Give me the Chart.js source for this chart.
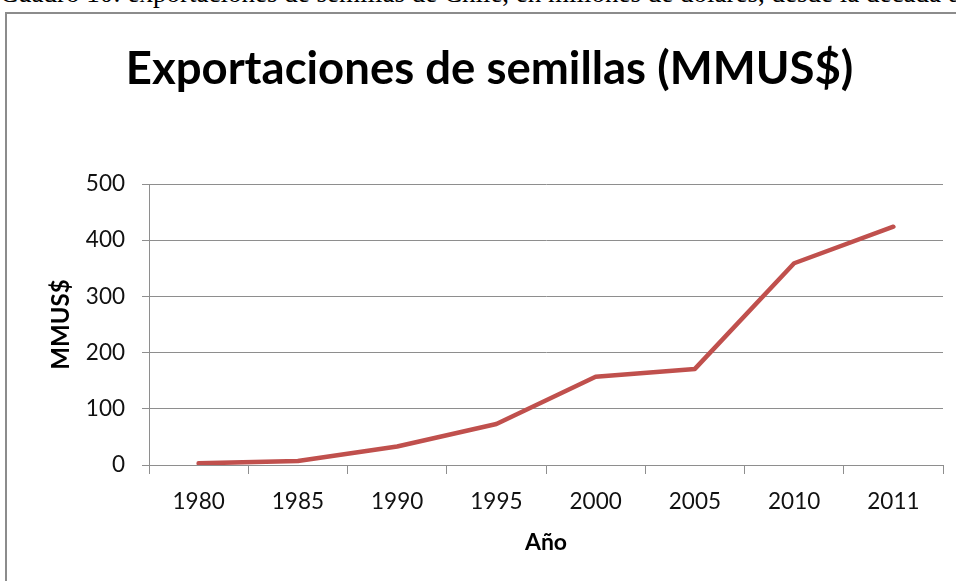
<!DOCTYPE html>
<html><head><meta charset="utf-8">
<script src="https://cdn.jsdelivr.net/npm/chart.js@4.4.0/dist/chart.umd.min.js"></script>
<style>
html,body{margin:0;padding:0;background:#fff;overflow:hidden;width:956px;height:581px;}
#cap{position:absolute;left:0;top:-20px;white-space:nowrap;font-family:"Liberation Serif";font-size:27px;line-height:27px;color:#000;}
#frame{position:absolute;left:5px;top:12px;width:1000px;height:1000px;border:2px solid #8c8c8c;box-sizing:border-box;}
#wrap{position:absolute;left:0;top:0;width:956px;height:581px;}
</style></head><body>
<div id="cap">Cuadro 10: exportaciones de semillas de Chile, en millones de dólares, desde la década de 1980</div>
<div id="frame"></div>
<div id="wrap"><canvas id="c" width="956" height="581"></canvas></div>
<script>
const years = ['1980','1985','1990','1995','2000','2005','2010','2011'];
const exportValues = [3, 7, 33, 73, 157, 171, 359, 424];
const yMin = 0, yMax = 500, yStep = 100;
const chartTitle = 'Exportaciones de semillas (MMUS$)';
const xTitle = 'Año';
const yTitle = 'MMUS$';

const gridGray = '#8e8e8e';
const textColor = '#111';

new Chart(document.getElementById('c'), {
  type: 'line',
  data: {
    labels: years,
    datasets: [{
      data: exportValues,
      borderColor: '#C0504D',
      backgroundColor: '#C0504D',
      borderWidth: 4.5,
      pointRadius: 0,
      tension: 0,
      borderCapStyle: 'round',
      borderJoinStyle: 'round',
      fill: false
    }]
  },
  options: {
    responsive: false,
    animation: false,
    layout: { padding: { left: 36, right: 13, top: 0, bottom: 0 } },
    plugins: {
      legend: { display: false },
      tooltip: { enabled: false },
      title: {
        display: true,
        text: chartTitle,
        color: '#000',
        font: { family: 'Lato', size: 45.5, weight: 'bold', lineHeight: 1.2 },
        padding: { top: 41.7, bottom: 87.7 }
      }
    },
    scales: {
      x: {
        type: 'category',
        offset: true,
        grid: { offset: true, drawOnChartArea: false, drawTicks: true, tickLength: 9, color: gridGray, lineWidth: 1 },
        border: { display: true, color: gridGray, width: 1 },
        ticks: { color: textColor, font: { family: 'Lato', size: 22.5 }, padding: 14, maxRotation: 0, autoSkip: false },
        title: { display: true, text: xTitle, color: '#000', font: { family: 'Lato', size: 23, weight: 'bold' }, padding: { top: 0, bottom: 24.2 } },
        afterFit(s) { s.height = 116; }
      },
      y: {
        min: yMin, max: yMax,
        grid: { color: gridGray, lineWidth: 1, tickLength: 7 },
        border: { display: true, color: gridGray, width: 1 },
        ticks: { stepSize: yStep, color: textColor, font: { family: 'Lato', size: 22.5 }, padding: 17 },
        title: { display: true, text: yTitle, color: '#000', font: { family: 'Lato', size: 24, weight: 'bold' }, padding: { top: 10.6, bottom: 0 } },
        afterFit(s) { s.width = 113; }
      }
    }
  }
});
</script>
</body></html>
